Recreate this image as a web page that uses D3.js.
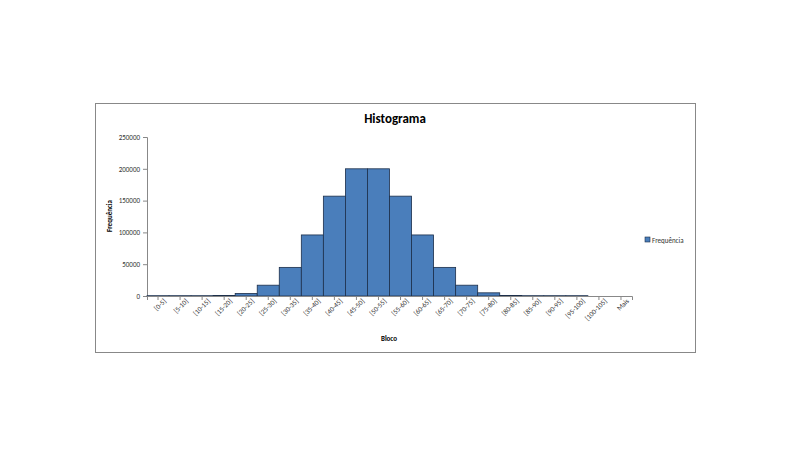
<!DOCTYPE html>
<html>
<head>
<meta charset="UTF-8">
<script src="https://d3js.org/d3.v7.min.js"></script>
<style>body{margin:0;background:#fff}</style>
</head>
<body>
<svg width="800" height="450"></svg>
<script>
var categorias = ['[0-5]','[5-10]','[10-15]','[15-20]','[20-25]','[25-30]','[30-35]','[35-40]','[40-45]','[45-50]','[50-55]','[55-60]','[60-65]','[65-70]','[70-75]','[75-80]','[80-85]','[85-90]','[90-95]','[95-100]','[100-105]','Mais'];
var frequencia = [500,500,500,800,4000,17000,45000,96000,157000,200000,200000,157000,96000,45000,17000,5000,800,500,500,500,0,0];
var yTicks = [0,50000,100000,150000,200000,250000];

var svg = d3.select('svg');
var font = 'Calibri, Carlito, "Liberation Sans", sans-serif';

// moldura
svg.append('rect').attr('x',95.5).attr('y',103.5).attr('width',600).attr('height',249)
    .attr('fill','#fff').attr('stroke','#888');

var x = d3.scaleBand().domain(categorias).range([147,632]).padding(0);
var y = d3.scaleLinear().domain([0,250000]).range([296,137]);

svg.append('text').attr('x',395).attr('y',123).attr('text-anchor','middle')
    .attr('font-family',font).attr('font-weight','bold').attr('font-size',13).text('Histograma');

// eixo y
var yAxis = svg.append('g').attr('transform','translate(147,0)')
    .call(d3.axisLeft(y).tickValues(yTicks).tickSize(4).tickFormat(d3.format('d')));
yAxis.selectAll('text').attr('font-family',font).attr('font-size',7).attr('fill','#333');
yAxis.selectAll('line,path').attr('stroke','#888');

// barras
svg.selectAll('rect.bar').data(frequencia).enter().append('rect').attr('class','bar')
    .attr('x',function(d,i){return x(categorias[i]);})
    .attr('y',function(d){return y(d);})
    .attr('width',x.bandwidth())
    .attr('height',function(d){return 296-y(d);})
    .attr('fill','#4a7ebb').attr('stroke','#1c2f4a').attr('stroke-width',0.8);

// eixo x
var xAxis = svg.append('g').attr('transform','translate(0,296)')
    .call(d3.axisBottom(x).tickSize(4));
xAxis.selectAll('line,path').attr('stroke','#888');
xAxis.selectAll('text').attr('font-family',font).attr('font-size',7).attr('fill','#333')
    .attr('text-anchor','end').attr('dx','0.3em').attr('dy','0.4em')
    .attr('transform','rotate(-45)');

svg.append('text').attr('x',389).attr('y',341).attr('text-anchor','middle')
    .attr('font-family',font).attr('font-weight','bold').attr('font-size',7).text('Bloco');
svg.append('text').attr('transform','translate(112,216) rotate(-90)').attr('text-anchor','middle')
    .attr('font-family',font).attr('font-weight','bold').attr('font-size',7).text('Frequência');

// legenda
svg.append('rect').attr('x',645).attr('y',237).attr('width',5).attr('height',5)
    .attr('fill','#4a7ebb').attr('stroke','#1c2f4a').attr('stroke-width',0.6);
svg.append('text').attr('x',652).attr('y',242.5).attr('font-family',font).attr('font-size',7)
    .attr('fill','#333').text('Frequência');
</script>
</body>
</html>
